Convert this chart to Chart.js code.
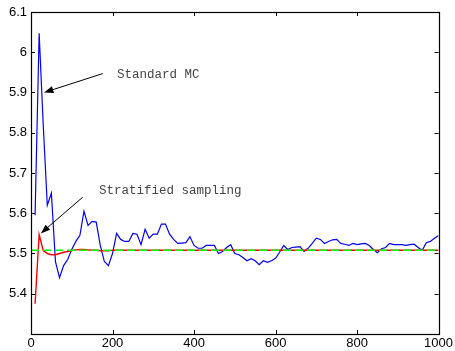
<!DOCTYPE html>
<html>
<head>
<meta charset="utf-8">
<script src="https://cdn.jsdelivr.net/npm/chart.js@4"></script>
<style>
  html, body { margin: 0; padding: 0; background: #fff; }
  #wrap { width: 455px; height: 351px; }
</style>
</head>
<body>
<div id="wrap"><canvas id="myChart" width="455" height="351"></canvas></div>
<script>
// numero de muestras (eje x)
const samples = [10, 20, 30, 40, 50, 60, 70, 80, 90, 100,
  110, 120, 130, 140, 150, 160, 170, 180, 190, 200,
  210, 220, 230, 240, 250, 260, 270, 280, 290, 300,
  310, 320, 330, 340, 350, 360, 370, 380, 390, 400,
  410, 420, 430, 440, 450, 460, 470, 480, 490, 500,
  510, 520, 530, 540, 550, 560, 570, 580, 590, 600,
  610, 620, 630, 640, 650, 660, 670, 680, 690, 700,
  710, 720, 730, 740, 750, 760, 770, 780, 790, 800,
  810, 820, 830, 840, 850, 860, 870, 880, 890, 900,
  910, 920, 930, 940, 950, 960, 970, 980, 990, 1000];

// Standard MC (azul)
const standardMC = [5.595, 6.047, 5.82, 5.62, 5.65, 5.48, 5.44, 5.47, 5.485, 5.51,
  5.53, 5.545, 5.605, 5.57, 5.58, 5.578, 5.52, 5.48, 5.47, 5.50,
  5.55, 5.535, 5.53, 5.53, 5.55, 5.548, 5.522, 5.56, 5.538, 5.548,
  5.548, 5.573, 5.573, 5.548, 5.535, 5.525, 5.526, 5.527, 5.542, 5.52,
  5.513, 5.513, 5.52, 5.52, 5.52, 5.50, 5.505, 5.515, 5.522, 5.50,
  5.497, 5.49, 5.482, 5.487, 5.482, 5.472, 5.482, 5.478, 5.482, 5.488,
  5.503, 5.52, 5.51, 5.515, 5.516, 5.517, 5.505, 5.513, 5.525, 5.538,
  5.535, 5.525, 5.53, 5.534, 5.535, 5.525, 5.523, 5.52, 5.525, 5.522,
  5.524, 5.525, 5.52, 5.51, 5.502, 5.512, 5.515, 5.525, 5.522, 5.522,
  5.522, 5.52, 5.522, 5.523, 5.515, 5.508, 5.527, 5.53, 5.538, 5.545];

// Stratified sampling (rojo)
const stratified = [5.375, 5.547, 5.507, 5.50, 5.497, 5.497, 5.50, 5.503, 5.505, 5.507,
  5.509, 5.51, 5.51, 5.509, 5.508, 5.508, 5.507, 5.507, 5.507, 5.508,
  5.508, 5.508, 5.508, 5.508, 5.508, 5.508, 5.508, 5.508, 5.508, 5.508,
  5.508, 5.508, 5.508, 5.508, 5.508, 5.508, 5.508, 5.508, 5.508, 5.508,
  5.508, 5.508, 5.508, 5.508, 5.508, 5.508, 5.508, 5.508, 5.508, 5.508,
  5.508, 5.508, 5.508, 5.508, 5.508, 5.508, 5.508, 5.508, 5.508, 5.508,
  5.508, 5.508, 5.508, 5.508, 5.508, 5.508, 5.508, 5.508, 5.508, 5.508,
  5.508, 5.508, 5.508, 5.508, 5.508, 5.508, 5.508, 5.508, 5.508, 5.508,
  5.508, 5.508, 5.508, 5.508, 5.508, 5.508, 5.508, 5.508, 5.508, 5.508,
  5.508, 5.508, 5.508, 5.508, 5.508, 5.508, 5.508, 5.508, 5.508, 5.508];

// valor exacto (verde discontinuo)
const exactX = [0, 1000];
const exactY = [5.508, 5.508];

const xTicks = [0, 200, 400, 600, 800, 1000];
const yTicks = [5.3, 5.4, 5.5, 5.6, 5.7, 5.8, 5.9, 6, 6.1];

// anotaciones: texto y flecha en coordenadas de datos
const notes = [
  { text: 'Standard MC', tx: 211, ty: 5.945, from: [176, 5.947], to: [32, 5.9] },
  { text: 'Stratified sampling', tx: 167, ty: 5.655, from: [127, 5.64], to: [24, 5.55] }
];

const toPoints = (xs, ys) => xs.map((x, i) => ({ x: x, y: ys[i] }));

// marco y ticks hacia dentro, estilo matlab
const framePlugin = {
  id: 'frame',
  afterDatasetsDraw(chart) {
    const { ctx, chartArea: a, scales } = chart;
    ctx.save();
    ctx.strokeStyle = '#000';
    ctx.lineWidth = 1;
    ctx.beginPath();
    xTicks.forEach(v => {
      const px = Math.round(scales.x.getPixelForValue(v)) + 0.5;
      ctx.moveTo(px, a.bottom); ctx.lineTo(px, a.bottom - 4);
      ctx.moveTo(px, a.top); ctx.lineTo(px, a.top + 4);
    });
    yTicks.forEach(v => {
      const py = Math.round(scales.y.getPixelForValue(v)) + 0.5;
      ctx.moveTo(a.left, py); ctx.lineTo(a.left + 4, py);
      ctx.moveTo(a.right, py); ctx.lineTo(a.right - 4, py);
    });
    ctx.stroke();
    ctx.lineWidth = 1.2;
    ctx.strokeRect(Math.round(a.left) + 0.5, Math.round(a.top) + 0.5,
      Math.round(a.right - a.left), Math.round(a.bottom - a.top));

    // anotaciones
    notes.forEach(n => {
      const x1 = scales.x.getPixelForValue(n.from[0]);
      const y1 = scales.y.getPixelForValue(n.from[1]);
      const x2 = scales.x.getPixelForValue(n.to[0]);
      const y2 = scales.y.getPixelForValue(n.to[1]);
      const ang = Math.atan2(y2 - y1, x2 - x1);
      ctx.strokeStyle = '#000';
      ctx.fillStyle = '#000';
      ctx.lineWidth = 1;
      ctx.beginPath();
      ctx.moveTo(x1, y1);
      ctx.lineTo(x2 - 6 * Math.cos(ang), y2 - 6 * Math.sin(ang));
      ctx.stroke();
      ctx.beginPath();
      ctx.moveTo(x2, y2);
      ctx.lineTo(x2 - 10 * Math.cos(ang - 0.35), y2 - 10 * Math.sin(ang - 0.35));
      ctx.lineTo(x2 - 10 * Math.cos(ang + 0.35), y2 - 10 * Math.sin(ang + 0.35));
      ctx.closePath();
      ctx.fill();

      ctx.fillStyle = '#444';
      ctx.font = '12.5px "Liberation Mono", monospace';
      ctx.textBaseline = 'middle';
      ctx.textAlign = 'left';
      ctx.fillText(n.text, scales.x.getPixelForValue(n.tx), scales.y.getPixelForValue(n.ty));
    });
    ctx.restore();
  }
};

const ctx = document.getElementById('myChart').getContext('2d');

new Chart(ctx, {
  type: 'scatter',
  data: {
    datasets: [
      {
        label: 'Standard MC',
        data: toPoints(samples, standardMC),
        showLine: true,
        borderColor: '#0000ff',
        borderWidth: 1.2,
        pointRadius: 0,
        tension: 0,
        order: 3,
      },
      {
        label: 'Stratified sampling',
        data: toPoints(samples, stratified),
        showLine: true,
        borderColor: '#ff0000',
        borderWidth: 1.4,
        pointRadius: 0,
        tension: 0,
        order: 2,
      },
      {
        label: 'Exact',
        data: toPoints(exactX, exactY),
        showLine: true,
        borderColor: '#00ff00',
        borderWidth: 1.6,
        borderDash: [8, 4],
        pointRadius: 0,
        order: 1,
      }
    ]
  },
  options: {
    responsive: false,
    animation: false,
    layout: { padding: { top: 12, right: 16, left: 0, bottom: 0 } },
    plugins: {
      legend: { display: false },
      tooltip: { enabled: false }
    },
    scales: {
      x: {
        type: 'linear',
        min: 0,
        max: 1000,
        afterBuildTicks: s => { s.ticks = xTicks.map(v => ({ value: v })); },
        afterFit: s => { s.height = 17; },
        grid: { display: false, drawTicks: false },
        border: { display: false },
        ticks: {
          color: '#000',
          padding: 2,
          maxRotation: 0,
          font: { family: '"Liberation Sans", Arial, sans-serif', size: 13 },
          callback: v => String(v)
        }
      },
      y: {
        type: 'linear',
        min: 5.3,
        max: 6.1,
        afterBuildTicks: s => { s.ticks = yTicks.map(v => ({ value: v })); },
        afterFit: s => { s.width = 31; },
        grid: { display: false, drawTicks: false },
        border: { display: false },
        ticks: {
          color: '#000',
          padding: 4,
          font: { family: '"Liberation Sans", Arial, sans-serif', size: 13 },
          callback: v => (v === 5.3 ? '' : String(Math.round(v * 10) / 10))
        }
      }
    }
  },
  plugins: [framePlugin]
});
</script>
</body>
</html>
